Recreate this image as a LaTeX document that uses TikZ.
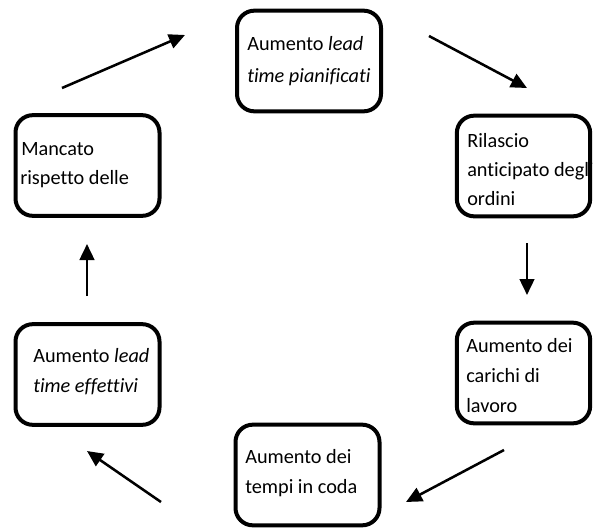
\documentclass[tikz,border=0pt]{standalone}
\usepackage{fontspec}
\setmainfont{Carlito}[Ligatures={NoCommon,NoContextual}]
\usetikzlibrary{arrows.meta}
\begin{document}
\begin{tikzpicture}[x=0.75pt,y=-0.75pt,
  box/.style={draw=black,line width=3pt,rounded corners=13pt,minimum width=108pt,minimum height=75.5pt,inner sep=0pt,outer sep=0pt},
  narrowbox/.style={box,minimum width=100pt},
  lbl/.style={anchor=base west,inner sep=0pt,font=\fontsize{15.2pt}{18pt}\selectfont},
  flow/.style={line width=1.9pt,-{Triangle[length=12pt,width=11pt]}}]
\useasboundingbox (0,0) rectangle (593,529);
% boxes
\node[box] (b1) at (309,61) {};
\node[narrowbox] (b2) at (523.5,166) {};
\node[narrowbox] (b3) at (523.5,373) {};
\node[box] (b4) at (307.5,475) {};
\node[box] (b5) at (87.5,374.5) {};
\node[box] (b6) at (87.5,165.5) {};
% texts
\node[lbl] (t1a) at (247,50) {Aumento \textit{lead}};
\node[lbl] (t1b) at (247,82) {\textit{time pianificati}};
\node[lbl] (t2a) at (467,147) {Rilascio};
\node[lbl] (t2b) at (467,176) {anticipato degli};
\node[lbl] (t2c) at (467,205) {ordini};
\node[lbl] (t3a) at (466,352) {Aumento dei};
\node[lbl] (t3b) at (466,382) {carichi di};
\node[lbl] (t3c) at (466,412) {lavoro};
\node[lbl] (t4a) at (245,463) {Aumento dei};
\node[lbl] (t4b) at (245,493) {tempi in coda};
\node[lbl] (t5a) at (33,362) {Aumento \textit{lead}};
\node[lbl] (t5b) at (33,392) {\textit{time effettivi}};
\node[lbl] (t6a) at (21,155) {Mancato};
\node[lbl] (t6b) at (20,184) {rispetto delle};
% arrow end points
\coordinate (a1s) at (62,88);   \coordinate (a1e) at (185,35);
\coordinate (a2s) at (429,36);  \coordinate (a2e) at (527,88);
\coordinate (a3s) at (527,243); \coordinate (a3e) at (527,295);
\coordinate (a4s) at (504,450); \coordinate (a4e) at (406,502);
\coordinate (a5s) at (161,502); \coordinate (a5e) at (87,451);
\coordinate (a6s) at (87,296);  \coordinate (a6e) at (87,244);
\draw[flow] (a1s) -- (a1e);
\draw[flow] (a2s) -- (a2e);
\draw[flow] (a3s) -- (a3e);
\draw[flow] (a4s) -- (a4e);
\draw[flow] (a5s) -- (a5e);
\draw[flow] (a6s) -- (a6e);
\end{tikzpicture}
\end{document}
